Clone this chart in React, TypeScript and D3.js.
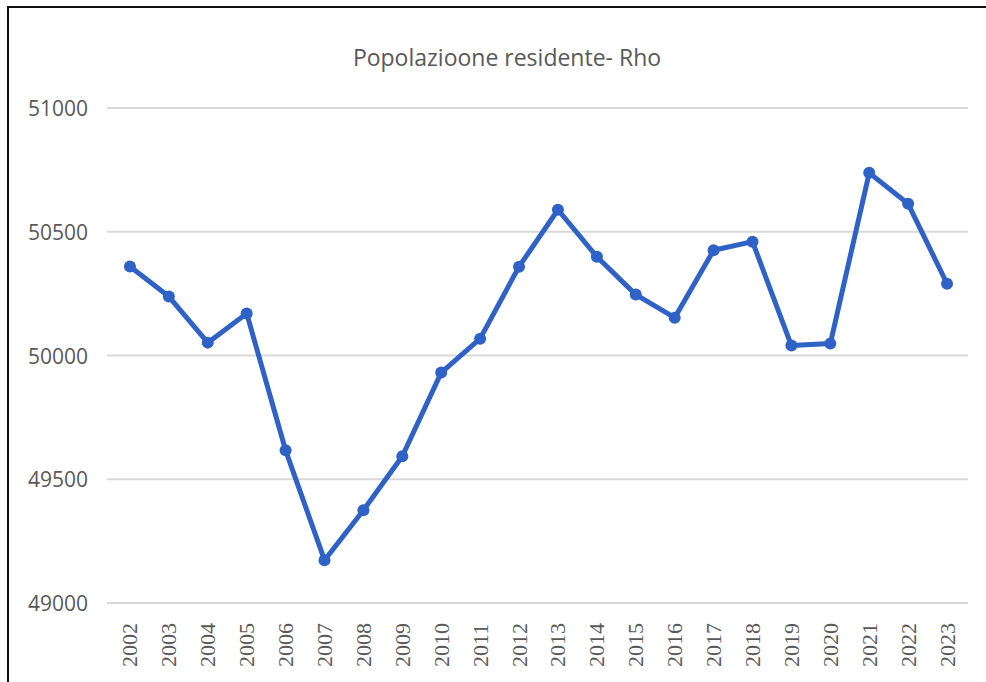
import React, { useRef, useEffect } from "react";
import * as d3 from "d3";

const years = ["2002","2003","2004","2005","2006","2007","2008","2009","2010","2011","2012","2013","2014","2015","2016","2017","2018","2019","2020","2021","2022","2023"];
const population = [50360, 50238, 50052, 50170, 49617, 49173, 49375, 49593, 49931, 50068, 50359, 50589, 50399, 50246, 50153, 50425, 50460, 50040, 50048, 50738, 50613, 50290];
const yTicks = [49000, 49500, 50000, 50500, 51000];
const title = "Popolazioone residente- Rho";

export default function App() {
  const ref = useRef<SVGSVGElement>(null);
  useEffect(() => {
    const svg = d3.select(ref.current);
    svg.selectAll("*").remove();
    const W = 986, H = 682;
    svg.append("rect").attr("x", 0).attr("y", 0).attr("width", W).attr("height", H).attr("fill", "#fff");
    // frame (top and left visible)
    svg.append("rect").attr("x", 8).attr("y", 7).attr("width", W + 20).attr("height", H + 20)
      .attr("fill", "none").attr("stroke", "#111").attr("stroke-width", 2);

    const x = d3.scaleBand().domain(years).range([110.5, 966.5]);
    const y = d3.scaleLinear().domain([49000, 51000]).range([603, 108]);

    svg.append("text").attr("x", 507).attr("y", 57).attr("text-anchor", "middle")
      .attr("dominant-baseline", "central").attr("font-family", "'Open Sans', sans-serif")
      .attr("font-size", 23).attr("fill", "#595959").text(title);

    const g = svg.append("g");
    yTicks.forEach(t => {
      g.append("line").attr("x1", 107).attr("x2", 968).attr("y1", y(t)).attr("y2", y(t))
        .attr("stroke", "#d9d9d9").attr("stroke-width", 2);
      g.append("text").attr("x", 88).attr("y", y(t)).attr("text-anchor", "end")
        .attr("dominant-baseline", "central").attr("font-family", "'Open Sans', sans-serif")
        .attr("font-size", 21).attr("fill", "#595959").text(String(t));
    });

    years.forEach(yr => {
      const cx = (x(yr) as number) + x.bandwidth() / 2;
      g.append("text").attr("transform", `translate(${cx},667) rotate(-90)`)
        .attr("text-anchor", "start").attr("dominant-baseline", "central")
        .attr("font-family", "'Liberation Serif', 'Times New Roman', serif").attr("font-size", 22)
        .attr("fill", "#595959").text(yr);
    });

    const pts = years.map((yr, i) => [(x(yr) as number) + x.bandwidth() / 2, y(population[i])] as [number, number]);
    const line = d3.line();
    g.append("path").attr("d", line(pts)).attr("fill", "none").attr("stroke", "#2e62c6")
      .attr("stroke-width", 5).attr("stroke-linejoin", "round");
    g.selectAll("circle.m").data(pts).enter().append("circle")
      .attr("cx", d => d[0]).attr("cy", d => d[1]).attr("r", 6).attr("fill", "#2e62c6");
  }, []);
  return (
    <svg ref={ref} width={986} height={682}
      style={{ position: "absolute", left: 0, top: 0, display: "block" }} />
  );
}
